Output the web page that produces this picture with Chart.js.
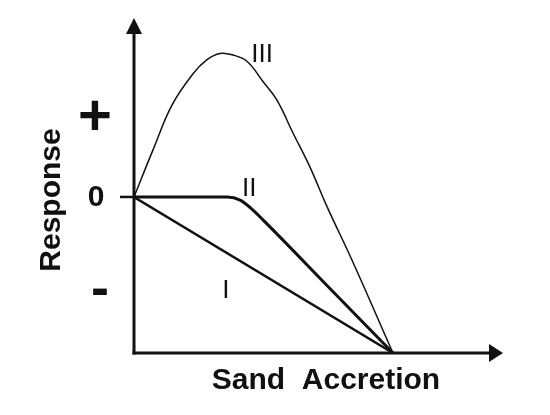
<!DOCTYPE html>
<html>
<head>
<meta charset="utf-8">
<script src="https://cdn.jsdelivr.net/npm/chart.js@4"></script>
<style>
  html, body { margin: 0; padding: 0; background: #fff; }
  #wrap { width: 550px; height: 415px; }
</style>
</head>
<body>
<div id="wrap"><canvas id="chart"></canvas></div>
<script>
// sand accretion (arbitrary units) and response (arbitrary units)
const curveI_x = [0, 10];
const curveI_y = [0, -1];

const curveII_x = [0, 3.6, 4.1, 4.5, 5.0, 7.5, 10];
const curveII_y = [0, 0, -0.02, -0.07, -0.15, -0.575, -1];

const curveIII_x = [0, 0.73, 1.47, 2.28, 2.82, 3.32, 3.82, 4.36, 4.98, 5.52, 6.14, 6.8, 7.45, 8.46, 10];
const curveIII_y = [0, 0.30, 0.59, 0.79, 0.88, 0.92, 0.91, 0.87, 0.74, 0.62, 0.41, 0.19, -0.06, -0.42, -1];

const curveLabels = ['I', 'II', 'III'];
const yMarks = [0.51, 0, -0.62];
const yMarkLabels = ['+', '0', '-'];

const toPoints = (xs, ys) => xs.map((x, i) => ({ x: x, y: ys[i] }));

const ink = '#111';

// axes with arrows, labels and titles
const sketchPlugin = {
    id: 'sketch',
    afterDraw(chart) {
        const ctx = chart.ctx;
        const xs = chart.scales.x;
        const ys = chart.scales.y;
        const left = xs.getPixelForValue(0);
        const right = xs.right;
        const top = ys.top;
        const bottom = ys.getPixelForValue(-1);
        const zero = ys.getPixelForValue(0);

        ctx.save();
        ctx.strokeStyle = ink;
        ctx.fillStyle = ink;
        ctx.lineWidth = 3;
        ctx.lineCap = 'butt';

        // y axis
        ctx.beginPath();
        ctx.moveTo(left, bottom + 1.5);
        ctx.lineTo(left, top + 12);
        ctx.stroke();
        ctx.beginPath();
        ctx.moveTo(left, top);
        ctx.lineTo(left - 8, top + 16);
        ctx.lineTo(left + 8, top + 16);
        ctx.closePath();
        ctx.fill();

        // x axis
        ctx.beginPath();
        ctx.moveTo(left - 1.5, bottom);
        ctx.lineTo(right - 10, bottom);
        ctx.stroke();
        ctx.beginPath();
        ctx.moveTo(right, bottom);
        ctx.lineTo(right - 14, bottom - 9);
        ctx.lineTo(right - 14, bottom + 9);
        ctx.closePath();
        ctx.fill();

        // tick at zero
        ctx.lineWidth = 2.5;
        ctx.beginPath();
        ctx.moveTo(left - 14, zero);
        ctx.lineTo(left, zero);
        ctx.stroke();

        // y marks
        ctx.textAlign = 'center';
        ctx.textBaseline = 'middle';
        const markFonts = ['bold 58px "Liberation Sans", Arial, sans-serif',
                           'bold 30px "Liberation Sans", Arial, sans-serif',
                           'bold 54px "Liberation Sans", Arial, sans-serif'];
        const markX = [95, 96, 100];
        const markDy = [2, 1, -3];
        yMarks.forEach((v, i) => {
            ctx.font = markFonts[i];
            ctx.fillText(yMarkLabels[i], markX[i], ys.getPixelForValue(v) + markDy[i]);
        });

        // curve labels
        ctx.font = '26px "Liberation Sans", Arial, sans-serif';
        const labelPos = [[3.55, -0.6], [4.45, 0.05], [4.95, 0.91]];
        labelPos.forEach((p, i) => {
            ctx.fillText(curveLabels[i], xs.getPixelForValue(p[0]), ys.getPixelForValue(p[1]));
        });

        // titles
        ctx.font = 'bold 30px "Liberation Sans", Arial, sans-serif';
        ctx.fillText('Sand  Accretion', 326, 381);
        ctx.save();
        ctx.translate(52, 200);
        ctx.rotate(-Math.PI / 2);
        ctx.fillText('Response', 0, 0);
        ctx.restore();

        ctx.restore();
    }
};

new Chart(document.getElementById('chart'), {
    type: 'line',
    data: {
        datasets: [
            {
                label: 'I',
                data: toPoints(curveI_x, curveI_y),
                borderColor: ink,
                borderWidth: 2.5,
                pointRadius: 0,
                tension: 0
            },
            {
                label: 'II',
                data: toPoints(curveII_x, curveII_y),
                borderColor: ink,
                borderWidth: 3,
                pointRadius: 0,
                cubicInterpolationMode: 'monotone'
            },
            {
                label: 'III',
                data: toPoints(curveIII_x, curveIII_y),
                borderColor: ink,
                borderWidth: 1.5,
                pointRadius: 0,
                tension: 0.4
            }
        ]
    },
    options: {
        responsive: true,
        maintainAspectRatio: false,
        animation: false,
        layout: { padding: { left: 134, right: 47, top: 18, bottom: 62 } },
        plugins: {
            legend: { display: false },
            tooltip: { enabled: false }
        },
        scales: {
            x: { type: 'linear', display: false, min: 0, max: 14.25 },
            y: { type: 'linear', display: false, min: -1, max: 1.147 }
        }
    },
    plugins: [sketchPlugin]
});
</script>
</body>
</html>
